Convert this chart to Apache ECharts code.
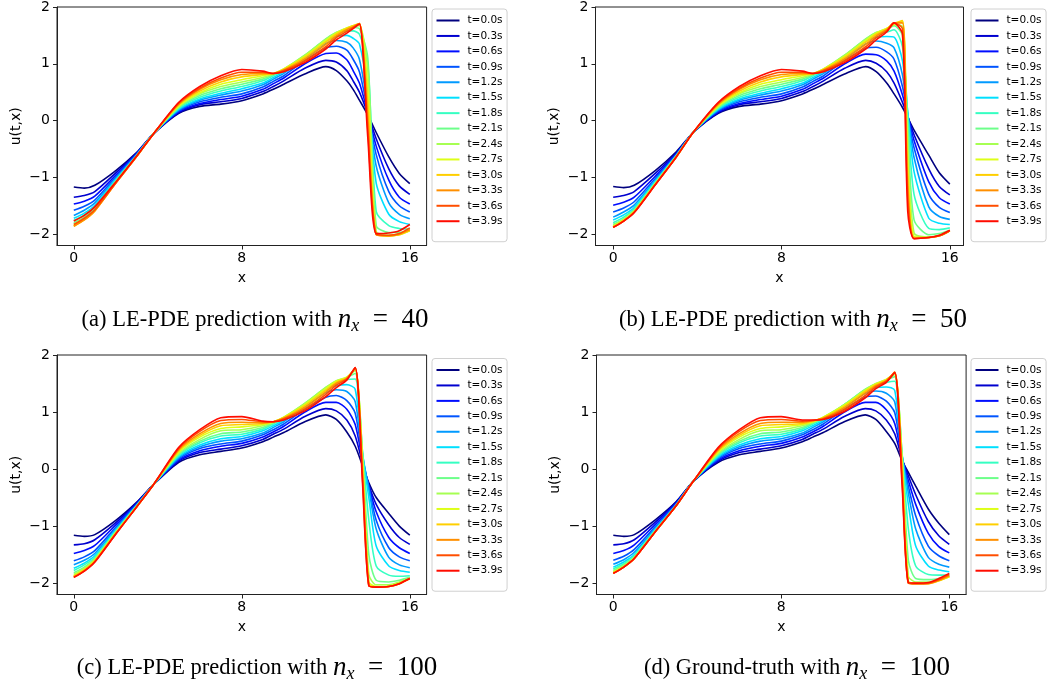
<!DOCTYPE html>
<html><head><meta charset="utf-8">
<script src="https://cdn.jsdelivr.net/npm/echarts@6/dist/echarts.min.js"></script>
<style>html,body{margin:0;padding:0;background:#fff}#c{width:1050px;height:690px}</style>
</head><body><div id="c"></div>
<script>
const TIMES = ['t=0.0s','t=0.3s','t=0.6s','t=0.9s','t=1.2s','t=1.5s','t=1.8s','t=2.1s','t=2.4s','t=2.7s','t=3.0s','t=3.3s','t=3.6s','t=3.9s'];
const COLORS = ['#00007f','#0000cf','#000dff','#0054ff','#009aff','#00e0ff','#35ffc2','#6dff8a','#a6ff52','#deff18','#ffcf00','#ff8f00','#ff4e00','#ff0c00'];
const X_TICKS = [0, 8, 16];
const Y_TICKS = [-2, -1, 0, 1, 2];

const XA = [0,0.5,1,2,3,3.8,5,6,7,8,9,9.5,10,11,12,12.5,13,13.3,13.6,14,14.4,15,15.5,16];
const UA = [
 [-1.17,-1.19,-1.14,-0.88,-0.56,-0.23,0.13,0.25,0.29,0.35,0.47,0.55,0.64,0.82,0.95,0.88,0.70,0.55,0.36,0.10,-0.21,-0.64,-0.93,-1.11],
 [-1.35,-1.32,-1.25,-0.92,-0.57,-0.23,0.14,0.28,0.33,0.39,0.51,0.60,0.70,0.92,1.06,1.03,0.88,0.70,0.50,0.12,-0.32,-0.85,-1.15,-1.30],
 [-1.47,-1.42,-1.33,-0.96,-0.58,-0.23,0.16,0.30,0.37,0.43,0.55,0.65,0.75,1.00,1.18,1.19,1.07,0.88,0.66,0.14,-0.45,-1.05,-1.35,-1.47],
 [-1.58,-1.51,-1.40,-0.99,-0.59,-0.23,0.17,0.33,0.41,0.47,0.59,0.69,0.79,1.06,1.28,1.31,1.24,1.08,0.86,0.18,-0.60,-1.25,-1.50,-1.61],
 [-1.67,-1.58,-1.45,-1.02,-0.60,-0.23,0.19,0.36,0.45,0.52,0.63,0.73,0.83,1.10,1.36,1.41,1.38,1.28,1.08,0.25,-0.80,-1.45,-1.65,-1.73],
 [-1.72,-1.63,-1.49,-1.04,-0.61,-0.23,0.20,0.38,0.48,0.56,0.66,0.76,0.86,1.12,1.40,1.48,1.50,1.45,1.35,0.50,-1.10,-1.65,-1.78,-1.83],
 [-1.76,-1.66,-1.52,-1.06,-0.61,-0.23,0.22,0.41,0.52,0.60,0.70,0.79,0.88,1.14,1.43,1.53,1.58,1.58,1.52,1.00,-1.60,-1.85,-1.90,-1.91],
 [-1.80,-1.70,-1.55,-1.07,-0.62,-0.23,0.23,0.44,0.56,0.64,0.73,0.81,0.90,1.15,1.44,1.55,1.62,1.64,1.62,1.10,-1.85,-1.97,-1.97,-1.93],
 [-1.83,-1.72,-1.57,-1.08,-0.62,-0.23,0.25,0.47,0.60,0.68,0.76,0.82,0.91,1.15,1.43,1.55,1.63,1.67,1.67,0.90,-1.95,-2.02,-2.00,-1.94],
 [-1.85,-1.74,-1.58,-1.09,-0.63,-0.23,0.26,0.49,0.64,0.72,0.79,0.83,0.91,1.13,1.41,1.54,1.63,1.67,1.70,0.60,-2.00,-2.03,-2.01,-1.94],
 [-1.86,-1.75,-1.59,-1.10,-0.63,-0.23,0.28,0.52,0.68,0.77,0.81,0.83,0.90,1.11,1.38,1.52,1.62,1.67,1.71,0.30,-2.01,-2.03,-2.01,-1.93],
 [-1.86,-1.75,-1.59,-1.10,-0.63,-0.23,0.29,0.55,0.72,0.81,0.83,0.83,0.89,1.08,1.34,1.49,1.60,1.65,1.71,0.05,-2.01,-2.03,-2.00,-1.92],
 [-1.83,-1.72,-1.57,-1.10,-0.63,-0.23,0.31,0.57,0.75,0.85,0.85,0.83,0.88,1.05,1.30,1.46,1.57,1.64,1.71,-0.15,-2.00,-2.02,-1.99,-1.89],
 [-1.77,-1.67,-1.52,-1.08,-0.62,-0.23,0.32,0.60,0.79,0.90,0.87,0.83,0.86,1.02,1.26,1.42,1.54,1.62,1.70,-0.30,-1.99,-1.98,-1.94,-1.83]
];

const XB = [0,0.5,1,2,3,3.8,5,6,7,8,9,9.5,10,11,12,12.5,13,13.35,13.75,14,14.3,15,15.5,16];
const UB = [
 [-1.16,-1.18,-1.14,-0.88,-0.55,-0.21,0.13,0.25,0.29,0.35,0.47,0.55,0.64,0.82,0.95,0.86,0.66,0.47,0.23,0.05,-0.17,-0.61,-0.92,-1.12],
 [-1.35,-1.32,-1.25,-0.93,-0.57,-0.21,0.14,0.28,0.33,0.39,0.51,0.60,0.70,0.92,1.06,1.01,0.86,0.66,0.32,0.07,-0.25,-0.85,-1.16,-1.31],
 [-1.49,-1.44,-1.35,-0.98,-0.59,-0.21,0.16,0.30,0.37,0.43,0.55,0.65,0.75,1.00,1.17,1.16,1.05,0.87,0.45,0.09,-0.35,-1.08,-1.36,-1.47],
 [-1.61,-1.54,-1.43,-1.02,-0.60,-0.21,0.17,0.33,0.41,0.47,0.59,0.69,0.79,1.06,1.27,1.29,1.21,1.08,0.60,0.10,-0.48,-1.30,-1.53,-1.62],
 [-1.70,-1.61,-1.49,-1.05,-0.61,-0.21,0.19,0.36,0.45,0.52,0.63,0.73,0.83,1.10,1.35,1.40,1.36,1.28,0.80,0.12,-0.65,-1.52,-1.69,-1.74],
 [-1.75,-1.66,-1.53,-1.07,-0.62,-0.21,0.20,0.38,0.48,0.56,0.66,0.76,0.86,1.12,1.40,1.47,1.48,1.47,1.05,0.15,-0.90,-1.72,-1.81,-1.83],
 [-1.80,-1.70,-1.56,-1.09,-0.62,-0.21,0.22,0.41,0.52,0.60,0.70,0.79,0.88,1.14,1.43,1.53,1.56,1.60,1.30,0.10,-1.30,-1.90,-1.92,-1.89],
 [-1.83,-1.73,-1.58,-1.10,-0.63,-0.21,0.23,0.44,0.56,0.64,0.73,0.81,0.90,1.15,1.44,1.55,1.60,1.67,1.50,-0.10,-1.75,-2.01,-1.99,-1.93],
 [-1.85,-1.74,-1.59,-1.11,-0.63,-0.21,0.25,0.47,0.60,0.68,0.76,0.82,0.91,1.15,1.43,1.55,1.62,1.69,1.65,-0.40,-1.98,-2.05,-2.02,-1.94],
 [-1.86,-1.75,-1.60,-1.12,-0.64,-0.21,0.26,0.49,0.64,0.72,0.79,0.83,0.91,1.13,1.41,1.54,1.62,1.70,1.75,-0.70,-2.04,-2.06,-2.03,-1.94],
 [-1.87,-1.76,-1.61,-1.12,-0.64,-0.21,0.28,0.52,0.68,0.77,0.81,0.83,0.90,1.11,1.38,1.52,1.61,1.71,1.76,-0.95,-2.06,-2.06,-2.03,-1.94],
 [-1.88,-1.77,-1.61,-1.13,-0.64,-0.21,0.29,0.55,0.72,0.81,0.83,0.83,0.89,1.08,1.34,1.49,1.60,1.72,1.72,-1.15,-2.07,-2.06,-2.03,-1.94],
 [-1.88,-1.77,-1.62,-1.13,-0.64,-0.21,0.31,0.57,0.75,0.85,0.85,0.83,0.88,1.05,1.30,1.46,1.58,1.72,1.62,-1.35,-2.08,-2.06,-2.03,-1.94],
 [-1.88,-1.77,-1.62,-1.13,-0.64,-0.21,0.32,0.60,0.79,0.90,0.87,0.83,0.86,1.02,1.26,1.42,1.56,1.72,1.52,-1.60,-2.08,-2.06,-2.02,-1.93]
];

const XC = [0,0.5,1,2,3,3.8,5,6,7,8,9,9.5,10,11,12,12.5,13,13.4,13.75,14.05,14.4,15,15.5,16];
const UC = [
 [-1.16,-1.18,-1.15,-0.90,-0.58,-0.27,0.12,0.25,0.31,0.37,0.48,0.56,0.64,0.83,0.95,0.87,0.65,0.40,0.06,-0.24,-0.50,-0.78,-1.00,-1.16],
 [-1.33,-1.31,-1.24,-0.94,-0.59,-0.27,0.14,0.29,0.35,0.41,0.52,0.61,0.70,0.92,1.06,1.02,0.86,0.58,0.10,-0.28,-0.62,-0.98,-1.20,-1.32],
 [-1.48,-1.43,-1.34,-0.98,-0.61,-0.27,0.16,0.32,0.40,0.45,0.56,0.65,0.75,1.00,1.17,1.17,1.05,0.78,0.15,-0.30,-0.75,-1.20,-1.38,-1.48],
 [-1.61,-1.54,-1.43,-1.02,-0.62,-0.27,0.18,0.36,0.44,0.49,0.60,0.69,0.79,1.05,1.26,1.29,1.20,0.98,0.20,-0.32,-0.90,-1.38,-1.54,-1.61],
 [-1.68,-1.60,-1.48,-1.05,-0.63,-0.27,0.20,0.39,0.49,0.53,0.63,0.73,0.83,1.09,1.34,1.39,1.36,1.18,0.25,-0.35,-1.05,-1.55,-1.68,-1.73],
 [-1.74,-1.65,-1.52,-1.07,-0.64,-0.27,0.22,0.42,0.53,0.57,0.67,0.76,0.86,1.12,1.39,1.46,1.48,1.40,0.28,-0.50,-1.35,-1.70,-1.78,-1.81],
 [-1.78,-1.68,-1.55,-1.09,-0.64,-0.27,0.24,0.46,0.58,0.61,0.70,0.79,0.88,1.14,1.42,1.51,1.57,1.58,0.30,-0.90,-1.70,-1.86,-1.88,-1.87],
 [-1.82,-1.72,-1.57,-1.10,-0.65,-0.27,0.26,0.49,0.62,0.65,0.73,0.81,0.90,1.15,1.43,1.54,1.60,1.68,0.25,-1.50,-1.95,-1.98,-1.95,-1.90],
 [-1.85,-1.74,-1.59,-1.11,-0.65,-0.27,0.28,0.52,0.67,0.69,0.76,0.82,0.91,1.15,1.43,1.55,1.61,1.73,0.20,-1.85,-2.03,-2.03,-1.98,-1.91],
 [-1.87,-1.76,-1.60,-1.12,-0.66,-0.27,0.30,0.56,0.71,0.74,0.78,0.83,0.91,1.13,1.41,1.54,1.61,1.75,0.12,-1.98,-2.06,-2.05,-2.00,-1.92],
 [-1.88,-1.77,-1.61,-1.13,-0.66,-0.27,0.32,0.59,0.76,0.78,0.80,0.83,0.90,1.11,1.38,1.52,1.60,1.76,0.02,-2.02,-2.07,-2.06,-2.01,-1.92],
 [-1.89,-1.78,-1.62,-1.13,-0.66,-0.27,0.34,0.62,0.80,0.82,0.81,0.83,0.89,1.08,1.35,1.50,1.59,1.77,-0.08,-2.04,-2.07,-2.06,-2.01,-1.92],
 [-1.90,-1.79,-1.63,-1.14,-0.66,-0.27,0.36,0.66,0.85,0.87,0.83,0.83,0.88,1.05,1.31,1.47,1.58,1.78,-0.18,-2.05,-2.07,-2.06,-2.01,-1.92],
 [-1.90,-1.79,-1.63,-1.14,-0.66,-0.27,0.38,0.69,0.90,0.92,0.84,0.83,0.86,1.02,1.27,1.43,1.56,1.78,-0.26,-2.05,-2.07,-2.06,-2.01,-1.92]
];

const XD = [0,0.5,1,2,3,3.8,5,6,7,8,9,9.5,10,11,12,12.5,13,13.4,13.75,14.05,14.4,15,15.5,16];
const UD = [
 [-1.16,-1.18,-1.15,-0.89,-0.57,-0.22,0.12,0.25,0.31,0.37,0.48,0.56,0.64,0.83,0.95,0.87,0.66,0.45,0.15,-0.06,-0.30,-0.70,-0.95,-1.15],
 [-1.33,-1.31,-1.24,-0.93,-0.58,-0.22,0.14,0.29,0.35,0.41,0.52,0.61,0.70,0.92,1.06,1.02,0.86,0.62,0.18,-0.12,-0.45,-0.92,-1.17,-1.32],
 [-1.48,-1.43,-1.33,-0.97,-0.60,-0.22,0.16,0.32,0.40,0.45,0.56,0.65,0.75,1.00,1.17,1.17,1.04,0.80,0.20,-0.20,-0.62,-1.13,-1.36,-1.47],
 [-1.60,-1.53,-1.41,-1.01,-0.61,-0.22,0.18,0.36,0.44,0.49,0.60,0.69,0.79,1.05,1.26,1.28,1.19,0.99,0.22,-0.30,-0.82,-1.35,-1.52,-1.61],
 [-1.67,-1.59,-1.46,-1.04,-0.62,-0.22,0.20,0.39,0.49,0.53,0.63,0.73,0.83,1.09,1.33,1.37,1.33,1.18,0.24,-0.42,-1.05,-1.55,-1.67,-1.72],
 [-1.72,-1.63,-1.50,-1.06,-0.63,-0.22,0.22,0.42,0.53,0.57,0.67,0.76,0.86,1.12,1.37,1.43,1.44,1.38,0.26,-0.62,-1.35,-1.70,-1.77,-1.80],
 [-1.75,-1.66,-1.52,-1.07,-0.63,-0.22,0.24,0.46,0.58,0.61,0.70,0.79,0.88,1.13,1.39,1.47,1.52,1.54,0.28,-1.05,-1.70,-1.85,-1.86,-1.86],
 [-1.78,-1.68,-1.54,-1.08,-0.64,-0.22,0.26,0.49,0.62,0.65,0.73,0.81,0.90,1.13,1.40,1.49,1.56,1.62,0.25,-1.60,-1.92,-1.94,-1.92,-1.89],
 [-1.80,-1.70,-1.55,-1.09,-0.64,-0.22,0.28,0.52,0.67,0.69,0.76,0.82,0.91,1.13,1.39,1.50,1.57,1.66,0.20,-1.88,-1.98,-1.98,-1.95,-1.89],
 [-1.81,-1.71,-1.56,-1.10,-0.64,-0.22,0.30,0.56,0.71,0.74,0.78,0.83,0.91,1.12,1.38,1.49,1.57,1.68,0.12,-1.96,-2.00,-2.00,-1.96,-1.89],
 [-1.82,-1.72,-1.57,-1.10,-0.64,-0.22,0.32,0.59,0.76,0.78,0.80,0.84,0.90,1.10,1.36,1.48,1.56,1.69,0.02,-1.99,-2.01,-2.01,-1.96,-1.88],
 [-1.83,-1.72,-1.57,-1.10,-0.64,-0.22,0.34,0.62,0.80,0.82,0.82,0.85,0.89,1.07,1.33,1.46,1.55,1.70,-0.08,-2.00,-2.01,-2.01,-1.95,-1.87],
 [-1.83,-1.72,-1.57,-1.10,-0.64,-0.22,0.36,0.66,0.85,0.87,0.84,0.85,0.88,1.04,1.29,1.44,1.54,1.70,-0.18,-2.00,-2.01,-2.00,-1.94,-1.85],
 [-1.83,-1.72,-1.57,-1.10,-0.64,-0.22,0.38,0.69,0.90,0.92,0.86,0.86,0.87,1.01,1.25,1.41,1.52,1.69,-0.27,-1.99,-2.00,-1.99,-1.92,-1.83]
];

const CAPTION_TEXT = ['(a) LE-PDE prediction with ', '(b) LE-PDE prediction with ', '(c) LE-PDE prediction with ', '(d) Ground-truth with '];
const CAPTION_NX = ['40', '50', '100', '100'];

const panels = [
  {x: XA, u: UA, grid: {left: 57, top: 5.5, width: 369.6, height: 240}, xr: [-0.8, 16.8], leg: {left: 432, top: 9}, cap: {x: 255, y: 320}},
  {x: XB, u: UB, grid: {left: 595.5, top: 5.5, width: 368, height: 240}, xr: [-0.84, 16.65], leg: {left: 971, top: 9}, cap: {x: 793, y: 320}},
  {x: XC, u: UC, grid: {left: 57, top: 355, width: 369.6, height: 239.5}, xr: [-0.8, 16.8], leg: {left: 432, top: 358.5}, cap: {x: 257, y: 668}},
  {x: XD, u: UD, grid: {left: 596.5, top: 355, width: 369.6, height: 239.5}, xr: [-0.8, 16.8], leg: {left: 971, top: 358.5}, cap: {x: 797, y: 668}}
];

const fmt = v => String(v).replace('-', '\u2212');
const tickFont = {fontFamily: 'DejaVu Sans', fontSize: 14, color: '#000'};

const series = [];
panels.forEach((p, pi) => {
  p.u.forEach((row, i) => {
    series.push({
      name: TIMES[i], type: 'line', xAxisIndex: pi, yAxisIndex: pi,
      data: p.x.map((xv, k) => [xv, row[k]]),
      showSymbol: false, symbol: 'none', smooth: 0.25, silent: true,
      color: COLORS[i],
      lineStyle: {width: 1.6, color: COLORS[i]},
      itemStyle: {color: COLORS[i]},
      emphasis: {disabled: true}
    });
  });
});

const rich = {
  t: {fontFamily: 'Liberation Serif', fontSize: 22.5, lineHeight: 30, fill: '#000'},
  n: {fontFamily: 'Liberation Serif', fontStyle: 'italic', fontSize: 27, lineHeight: 30, fill: '#000'},
  s: {fontFamily: 'Liberation Serif', fontStyle: 'italic', fontSize: 18, lineHeight: 16, verticalAlign: 'bottom', fill: '#000'},
  e: {fontFamily: 'Liberation Serif', fontSize: 27, lineHeight: 30, fill: '#000'}
};

const axisLineStyle = {show: true, onZero: false, lineStyle: {color: '#222', width: 1}};

const option = {
  animation: false,
  backgroundColor: '#fff',
  grid: panels.map(p => Object.assign({show: true, borderColor: '#222', borderWidth: 1, backgroundColor: 'transparent'}, p.grid)),
  xAxis: panels.map((p, pi) => ({
    gridIndex: pi, type: 'value', min: p.xr[0], max: p.xr[1], position: 'bottom',
    name: 'x', nameLocation: 'middle', nameGap: 26,
    nameTextStyle: {fontFamily: 'DejaVu Sans', fontSize: 14, color: '#000'},
    axisLine: axisLineStyle, splitLine: {show: false},
    axisTick: {show: true, length: 4, inside: false, customValues: X_TICKS, lineStyle: {color: '#222', width: 1}},
    axisLabel: Object.assign({show: true, margin: 6, customValues: X_TICKS, formatter: fmt}, tickFont)
  })),
  yAxis: panels.map((p, pi) => ({
    gridIndex: pi, type: 'value', min: -2.2, max: 2.0, position: 'left',
    name: 'u(t,x)', nameLocation: 'middle', nameGap: 34,
    nameTextStyle: {fontFamily: 'DejaVu Sans', fontSize: 14, color: '#000'},
    axisLine: axisLineStyle, splitLine: {show: false},
    axisTick: {show: true, length: 4, inside: false, customValues: Y_TICKS, lineStyle: {color: '#222', width: 1}},
    axisLabel: Object.assign({show: true, margin: 7, customValues: Y_TICKS, formatter: fmt}, tickFont)
  })),
  legend: panels.map(p => ({
    orient: 'vertical', left: p.leg.left, top: p.leg.top,
    data: TIMES.slice(), icon: 'rect', itemWidth: 23, itemHeight: 2, itemGap: 2.44,
    padding: [5, 4.5, 14, 4.5], selectedMode: false,
    borderColor: '#d0d0d0', borderWidth: 1, borderRadius: 3, backgroundColor: '#fff',
    textStyle: {fontFamily: 'DejaVu Sans', fontSize: 10.5, lineHeight: 13, color: '#000', padding: [0, 0, 0, 3]}
  })),
  graphic: panels.map((p, pi) => ({
    type: 'text', x: p.cap.x, y: p.cap.y,
    style: {
      text: '{t|' + CAPTION_TEXT[pi] + '}{n|n}{s|x}{e|\u2002=\u2002' + CAPTION_NX[pi] + '}',
      rich: rich, align: 'center', verticalAlign: 'middle', fill: '#000',
      font: '22px "Liberation Serif"'
    }
  })),
  series: series
};

const chart = echarts.init(document.getElementById('c'), null, {renderer: 'canvas'});
chart.setOption(option);
</script>
</body></html>
